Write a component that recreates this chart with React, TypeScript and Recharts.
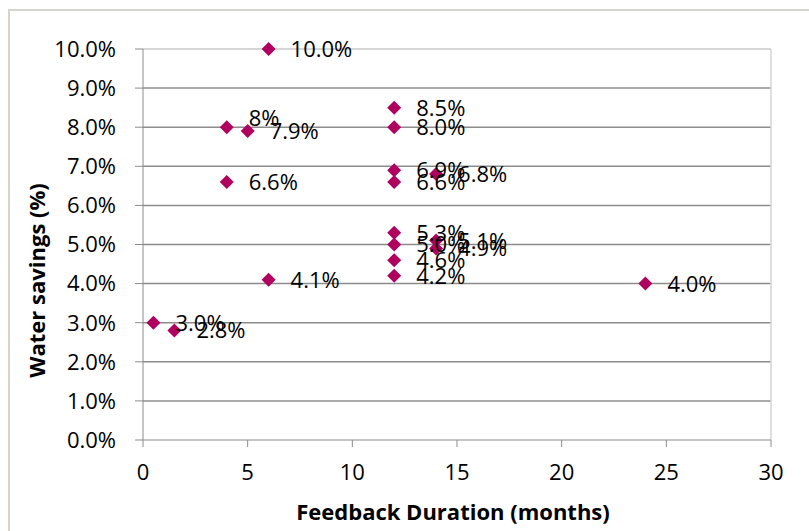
import {
  ScatterChart,
  Scatter,
  XAxis,
  YAxis,
  CartesianGrid,
  ReferenceLine,
  LabelList,
} from "recharts";

// Feedback duration (months) and water savings (%) per study
const months = [6, 4, 5, 4, 6, 0.5, 1.5, 12, 12, 12, 12, 14, 12, 12, 14, 14, 12, 12, 24];
const savings = [10.0, 8.0, 7.9, 6.6, 4.1, 3.0, 2.8, 8.5, 8.0, 6.9, 6.6, 6.8, 5.3, 5.0, 5.1, 4.9, 4.6, 4.2, 4.0];
const labels = [
  "10.0%", "8%", "7.9%", "6.6%", "4.1%", "3.0%", "2.8%", "8.5%", "8.0%", "6.9%",
  "6.6%", "6.8%", "5.3%", "5.0%", "5.1%", "4.9%", "4.6%", "4.2%", "4.0%",
];
const xTicks = [0, 5, 10, 15, 20, 25, 30];
const yTicks = [0, 1, 2, 3, 4, 5, 6, 7, 8, 9, 10];

const data = months.map((m, i) => ({ x: m, y: savings[i], label: labels[i] }));

const FONT = "'Open Sans', sans-serif";
const MARKER = "#B0005F";
const titleStyle = { fontFamily: FONT, fontSize: 22, fontWeight: 700, fill: "#000" };

// diamond marker, same width and height
const Diamond = (props: any) => {
  const { cx, cy } = props;
  const r = 7;
  return (
    <path
      d={`M${cx},${cy - r}L${cx + r},${cy}L${cx},${cy + r}L${cx - r},${cy}Z`}
      fill={MARKER}
    />
  );
};

const PointLabel = (props: any) => {
  const { x, y, width, height, value } = props;
  const cx = x + width / 2;
  const cy = y + height / 2;
  // the "8%" label sits above the point in the original
  const up = value === "8%";
  return (
    <text
      x={cx + 22}
      y={cy + (up ? -9 : 0)}
      dy="0.36em"
      fontSize={22}
      fontFamily={FONT}
      fill="#000"
    >
      {value}
    </text>
  );
};

// y title is centred on the whole chart box, not the plot area
const YTitle = (props: any) => {
  const { viewBox } = props;
  const x = viewBox.x + 35;
  const y = viewBox.y + viewBox.height / 2 + 36;
  return (
    <text
      x={x}
      y={y}
      transform={`rotate(-90, ${x}, ${y})`}
      textAnchor="middle"
      dy="0.36em"
      style={titleStyle}
    >
      Water savings (%)
    </text>
  );
};

function App() {
  return (
    <div style={styles.frame}>
      <ScatterChart
        width={809}
        height={531}
        margin={{ top: 48, right: 40, bottom: 0, left: 0 }}
        style={{ position: "absolute", left: -8, top: -10 }}
      >
        <CartesianGrid
          vertical={false}
          horizontalValues={[1, 2, 3, 4, 5, 6, 7, 8, 9]}
          stroke="#8c8c8c"
          strokeWidth={1.5}
        />
        <ReferenceLine y={10} stroke="#c8c8c8" strokeWidth={1.5} />
        <ReferenceLine x={30} stroke="#d4d4d4" strokeWidth={1.5} />
        <XAxis
          type="number"
          dataKey="x"
          domain={[0, 30]}
          ticks={xTicks}
          height={92}
          stroke="#8c8c8c"
          tickSize={7}
          tickMargin={17}
          tick={{ fill: "#000", fontSize: 22, fontFamily: FONT }}
          label={{
            value: "Feedback Duration (months)",
            position: "insideBottom",
            offset: 12,
            dx: -4,
            style: titleStyle,
          }}
        />
        <YAxis
          type="number"
          dataKey="y"
          domain={[0, 10]}
          ticks={yTicks}
          width={141}
          stroke="#8c8c8c"
          tickSize={8}
          tickMargin={19}
          tickFormatter={(v: number) => v.toFixed(1) + "%"}
          tick={{ fill: "#000", fontSize: 22, fontFamily: FONT }}
          label={<YTitle />}
        />
        <Scatter data={data} shape={<Diamond />} isAnimationActive={false}>
          <LabelList dataKey="label" content={<PointLabel />} />
        </Scatter>
      </ScatterChart>
    </div>
  );
}

export default App;

const styles = {
  frame: {
    position: "absolute" as const,
    left: 8,
    top: 9,
    width: 801,
    height: 522,
    borderTop: "2px solid #d9d3cd",
    borderLeft: "2px solid #d9d3cd",
    overflow: "hidden",
    background: "#fff",
  },
};
